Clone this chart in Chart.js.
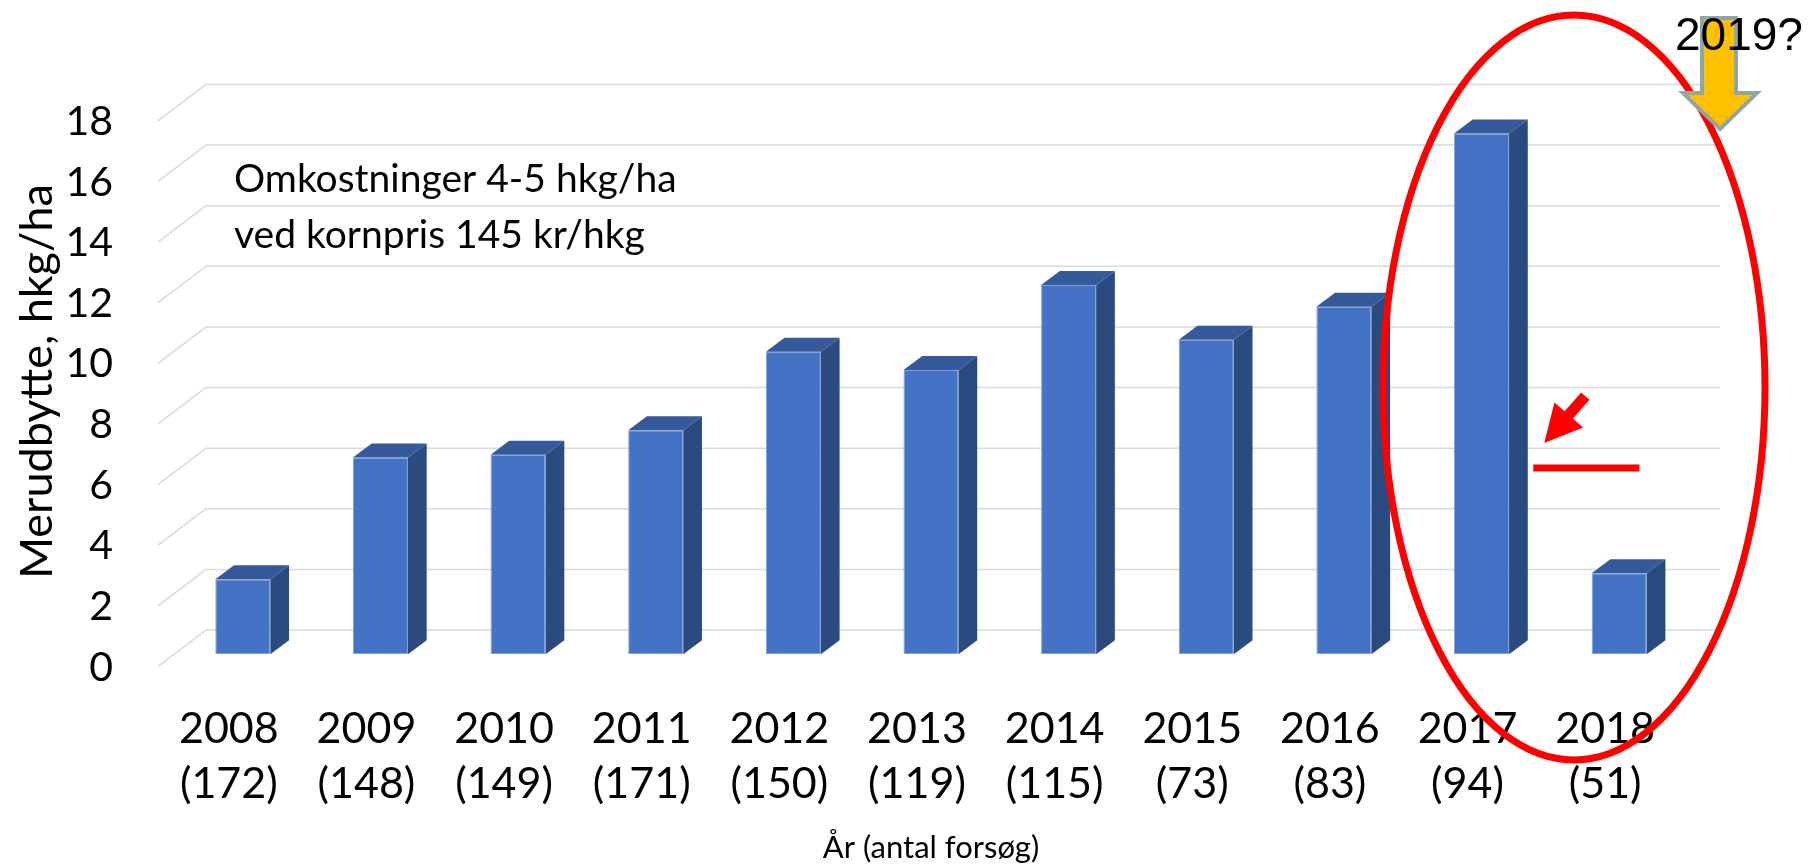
<!DOCTYPE html>
<html>
<head>
<meta charset="utf-8">
<script src="https://cdn.jsdelivr.net/npm/chart.js@4"></script>
<style>
  html, body { margin: 0; padding: 0; background: #fff; }
  #wrap { width: 1808px; height: 865px; position: relative; }
</style>
</head>
<body>
<div id="wrap"><canvas id="chart"></canvas></div>
<script>
const years = ['2008', '2009', '2010', '2011', '2012', '2013', '2014', '2015', '2016', '2017', '2018'];
const trials = [172, 148, 149, 171, 150, 119, 115, 73, 83, 94, 51];
const yieldGain = [2.48, 6.49, 6.58, 7.39, 9.98, 9.38, 12.18, 10.38, 11.47, 17.18, 2.67];
const yMax = 18;
const yStep = 2;
const markLevel = 6.15;          // red level line beside 2018
const markSpan = [9.376, 10.147]; // category positions of that line
const noteLines = ['Omkostninger 4-5 hkg/ha', 'ved kornpris 145 kr/hkg'];

// fake 3D offsets (px)
const floorFront = { x: -16, y: 12.1 };
const floorBack = { x: 32, y: -24.3 };
const barDepth = { x: 18.7, y: -14 };

const fake3d = {
  id: 'fake3d',
  beforeDatasetsDraw(chart) {
    const { ctx, chartArea: a, scales: { y } } = chart;
    ctx.save();
    ctx.strokeStyle = '#d9d9d9';
    ctx.lineWidth = 1.5;
    y.ticks.forEach(t => {
      const py = y.getPixelForValue(t.value);
      ctx.beginPath();
      ctx.moveTo(a.left + floorFront.x, py + floorFront.y);
      ctx.lineTo(a.left + floorBack.x, py + floorBack.y);
      ctx.lineTo(a.right + floorBack.x, py + floorBack.y);
      ctx.stroke();
    });
    ctx.restore();
  },
  afterDatasetsDraw(chart) {
    const { ctx } = chart;
    const dx = barDepth.x, dy = barDepth.y;
    ctx.save();
    chart.getDatasetMeta(0).data.forEach(bar => {
      const { x, y, base, width } = bar.getProps(['x', 'y', 'base', 'width'], true);
      const l = x - width / 2, r = x + width / 2;
      ctx.fillStyle = '#2b4a80';
      ctx.beginPath();
      ctx.moveTo(r, y); ctx.lineTo(r + dx, y + dy); ctx.lineTo(r + dx, base + dy); ctx.lineTo(r, base);
      ctx.closePath(); ctx.fill();
      ctx.fillStyle = '#35599a';
      ctx.beginPath();
      ctx.moveTo(l, y); ctx.lineTo(l + dx, y + dy); ctx.lineTo(r + dx, y + dy); ctx.lineTo(r, y);
      ctx.closePath(); ctx.fill();
    });
    ctx.restore();
  },
  afterDraw(chart) {
    const { ctx, scales: { x, y } } = chart;
    ctx.save();

    // note text
    ctx.fillStyle = '#000';
    ctx.font = '39px Lato';
    ctx.textAlign = 'left';
    ctx.textBaseline = 'alphabetic';
    ctx.fillText(noteLines[0], 234, 191.5);
    ctx.fillText(noteLines[1], 234, 248);

    // red ellipse round 2017-2018
    ctx.strokeStyle = '#ff0000';
    ctx.lineWidth = 7;
    ctx.beginPath();
    ctx.ellipse(1574, 387.5, 191, 372.5, 0, 0, Math.PI * 2);
    ctx.stroke();

    // red level line
    const ly = y.getPixelForValue(markLevel);
    const lx1 = x.getPixelForValue(markSpan[0]);
    const lx2 = x.getPixelForValue(markSpan[1]);
    ctx.lineCap = 'butt';
    ctx.beginPath();
    ctx.moveTo(lx1, ly); ctx.lineTo(lx2, ly);
    ctx.stroke();

    // red arrow pointing at the line
    const T = { x: lx1 + 11, y: ly - 25 };
    const u = { x: 0.661, y: -0.754 }, n = { x: 0.754, y: 0.661 };
    const p = (a, b) => [T.x + a * u.x + b * n.x, T.y + a * u.y + b * n.y];
    const pts = [p(0, 0), p(37, 19), p(37, 5.5), p(62, 5.5), p(62, -5.5), p(37, -5.5), p(37, -19)];
    ctx.fillStyle = '#ff0000';
    ctx.beginPath();
    pts.forEach((q, i) => i ? ctx.lineTo(q[0], q[1]) : ctx.moveTo(q[0], q[1]));
    ctx.closePath(); ctx.fill();

    // yellow down arrow
    ctx.fillStyle = '#ffc000';
    ctx.strokeStyle = '#8fa6a6';
    ctx.lineWidth = 4;
    ctx.lineJoin = 'miter';
    ctx.beginPath();
    ctx.moveTo(1702, 18); ctx.lineTo(1736, 18); ctx.lineTo(1736, 93); ctx.lineTo(1757, 93);
    ctx.lineTo(1720, 129); ctx.lineTo(1683, 93); ctx.lineTo(1702, 93);
    ctx.closePath(); ctx.fill(); ctx.stroke();

    ctx.fillStyle = '#000';
    ctx.font = '46px "Liberation Sans"';
    ctx.fillText('2019?', 1675, 50);
    ctx.restore();
  }
};

new Chart(document.getElementById('chart'), {
  type: 'bar',
  data: {
    labels: years.map((yr, i) => [yr, '(' + trials[i] + ')']),
    datasets: [{
      data: yieldGain,
      backgroundColor: '#4472c4',
      borderColor: '#7f9fd6',
      borderWidth: 1,
      borderSkipped: false,
      barPercentage: 0.4,
      categoryPercentage: 1
    }]
  },
  options: {
    responsive: true,
    maintainAspectRatio: false,
    animation: false,
    layout: { padding: { left: 0, right: 120, top: 108.7, bottom: 0 } },
    plugins: { legend: { display: false }, tooltip: { enabled: false } },
    scales: {
      x: {
        grid: { display: false, drawTicks: false },
        border: { display: false },
        ticks: { color: '#000', font: { family: 'Lato', size: 43, lineHeight: 1.28 }, padding: 47, labelOffset: -14, maxRotation: 0, autoSkip: false },
        title: { display: true, text: 'År (antal forsøg)', color: '#000', font: { family: 'Lato', size: 31, lineHeight: 1 }, padding: { top: 0, bottom: 2 } },
        afterFit: s => { s.height = 210.7; }
      },
      y: {
        min: 0,
        max: yMax,
        grid: { display: false, drawTicks: false },
        border: { display: false },
        ticks: { stepSize: yStep, color: '#000', font: { family: 'Lato', size: 41 }, padding: 61, labelOffset: 13 },
        title: { display: true, text: 'Merudbytte, hkg/ha', color: '#000', font: { family: 'Lato', size: 45, lineHeight: 1 }, padding: { top: 15, bottom: 0 } },
        afterFit: s => { s.width = 174; }
      }
    }
  },
  plugins: [fake3d]
});
</script>
</body>
</html>
